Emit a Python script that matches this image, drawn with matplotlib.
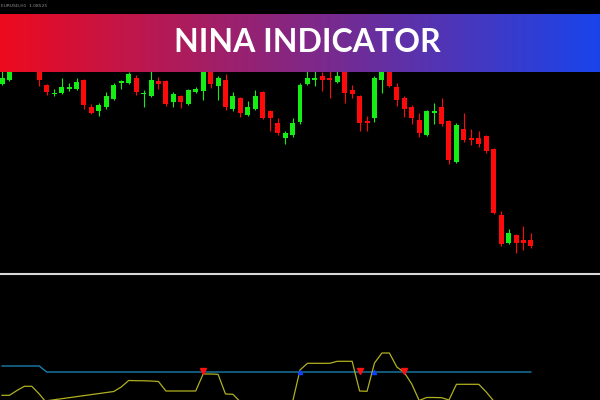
import numpy as np
import matplotlib
matplotlib.use('Agg')
import matplotlib.pyplot as plt
from matplotlib.lines import Line2D

# Свечи (открытие, максимум, минимум, закрытие)
opens = [216, 220, 240, 236, 238, 232, 215, 206, 207, 211, 211, 220, 193, 189, 193, 201, 217, 217,
         222, 206, 204, 219, 219, 198, 204, 196, 208, 209, 230, 214, 220, 191, 202, 185, 191, 208,
         189, 177, 162, 165, 178, 216, 220, 224, 222, 218, 230, 210, 204, 179, 182, 220, 230, 213,
         202, 193, 180, 165, 187, 193, 179, 138, 171, 162, 162, 164, 151, 85, 57, 65, 60, 60]
highs = [235, 234, 244, 245, 242, 236, 216, 211, 222, 217, 222, 221, 196, 197, 208, 217, 220, 228,
         225, 210, 230, 223, 220, 208, 205, 211, 213, 232, 231, 224, 226, 208, 203, 199, 210, 209,
         190, 182, 169, 182, 217, 230, 230, 228, 230, 230, 232, 215, 205, 184, 224, 232, 232, 217,
         204, 195, 187, 190, 197, 202, 180, 177, 187, 171, 169, 165, 152, 89, 71, 66, 74, 67]
lows = [215, 219, 232, 233, 230, 214, 205, 204, 206, 209, 210, 191, 186, 184, 191, 200, 211, 216,
        205, 193, 203, 211, 194, 193, 192, 195, 207, 200, 212, 200, 190, 189, 183, 184, 190, 181,
        169, 165, 156, 163, 176, 215, 214, 209, 202, 217, 197, 202, 169, 169, 178, 207, 213, 194,
        183, 176, 163, 164, 176, 174, 136, 137, 158, 155, 153, 147, 86, 54, 56, 47, 50, 52]
closes = [222, 230, 234, 242, 231, 220, 208, 206, 213, 213, 218, 195, 187, 195, 204, 215, 219, 226,
          208, 206, 220, 216, 196, 206, 198, 210, 211, 230, 216, 222, 193, 204, 187, 193, 204, 182,
          182, 167, 167, 177, 215, 222, 222, 220, 220, 224, 207, 206, 177, 177, 222, 230, 214, 200,
          191, 182, 167, 189, 189, 176, 140, 175, 160, 160, 156, 149, 87, 56, 67, 57, 57, 54]

# Индикатор Nina: сигнальная линия и уровень
nina_line = [4.7, 4.7, 9.5, 13.7, 13.7, 6, -3, -12, -12, -12, -12, -12, -12, -12, -1, 8.5, 13, 19.5,
             19.3, 19.2, 19, 18.5, 9, 9, 9, 9, 9, 26, 26, 25.7, 6, 5.7, -2, -12, -12, -12,
             -12, -12, -12, -2, 30, 36.7, 36.7, 36.7, 36.7, 38.7, 38.7, 38.7, 9, 8.7, 37, 47,
             47, 33, 27.5, 16, -0.5, 2.5, 2.5, 2.3, 0, 15.7, 15.7, 15.7, 15.7, 8, -1, -12,
             -12, -12, -12, -12]
nina_level = [34] * 6 + [28] * 66
sell_bars = [27, 48, 54]
buy_bars = [40, 50]

opens = np.array(opens)
closes = np.array(closes)
idx = np.arange(len(opens))
up = closes >= opens

fig = plt.figure(figsize=(6, 4), dpi=100, facecolor='black')

# Верхняя панель: свечной график
ax = fig.add_axes([0, 0.3175, 1, 0.6825], facecolor='black')
colors = np.where(up, '#14ee14', '#ff0a0a')
ax.vlines(idx, lows, highs, colors=colors, linewidth=0.8)
ax.bar(idx, np.maximum(np.abs(closes - opens), 1), bottom=np.minimum(opens, closes),
       width=0.67, color=colors, linewidth=0)
ax.set_xlim(-0.27, 80.27)
ax.set_ylim(27, 300)
ax.axis('off')

# Разделитель между окнами
fig.add_artist(Line2D([0, 1], [0.315, 0.315], color='#d8d8d8', linewidth=1.5))

# Нижняя панель: индикатор
ax2 = fig.add_axes([0, 0, 1, 0.3125], facecolor='black')
ax2.plot(idx, nina_level, color='#1a8cc0', linewidth=0.9)
ax2.plot(idx, nina_line, color='#b0b020', linewidth=0.9)
ax2.plot(sell_bars, [29] * len(sell_bars), linestyle='none', marker='v',
         markersize=4, color='#ff1010')
ax2.vlines(sell_bars, 29, 32, color='#ff1010', linewidth=1.2)
ax2.plot(buy_bars, [28] * len(buy_bars), linestyle='none', marker='^',
         markersize=3, color='#1040ff')
ax2.set_xlim(-0.27, 80.27)
ax2.set_ylim(0, 125)
ax2.axis('off')

# Баннер с градиентом
left = np.array([238, 10, 30]) / 255
right = np.array([25, 68, 235]) / 255
t = np.linspace(0, 1, 600)[None, :, None]
grad = left * (1 - t) + right * t
bax = fig.add_axes([0, 0.82, 1, 0.145])
bax.imshow(grad, aspect='auto', extent=(0, 1, 0, 1))
bax.axis('off')
fig.text(0.513, 0.895, 'NINA INDICATOR', ha='center', va='center', color='white',
         fontsize=23, fontweight='bold', family='Lato')

fig.text(0.002, 0.985, 'EURUSD,H1  1.08525', ha='left', va='center', color='#909090', fontsize=3.2)

fig.savefig('out.png', dpi=100, facecolor='black')
